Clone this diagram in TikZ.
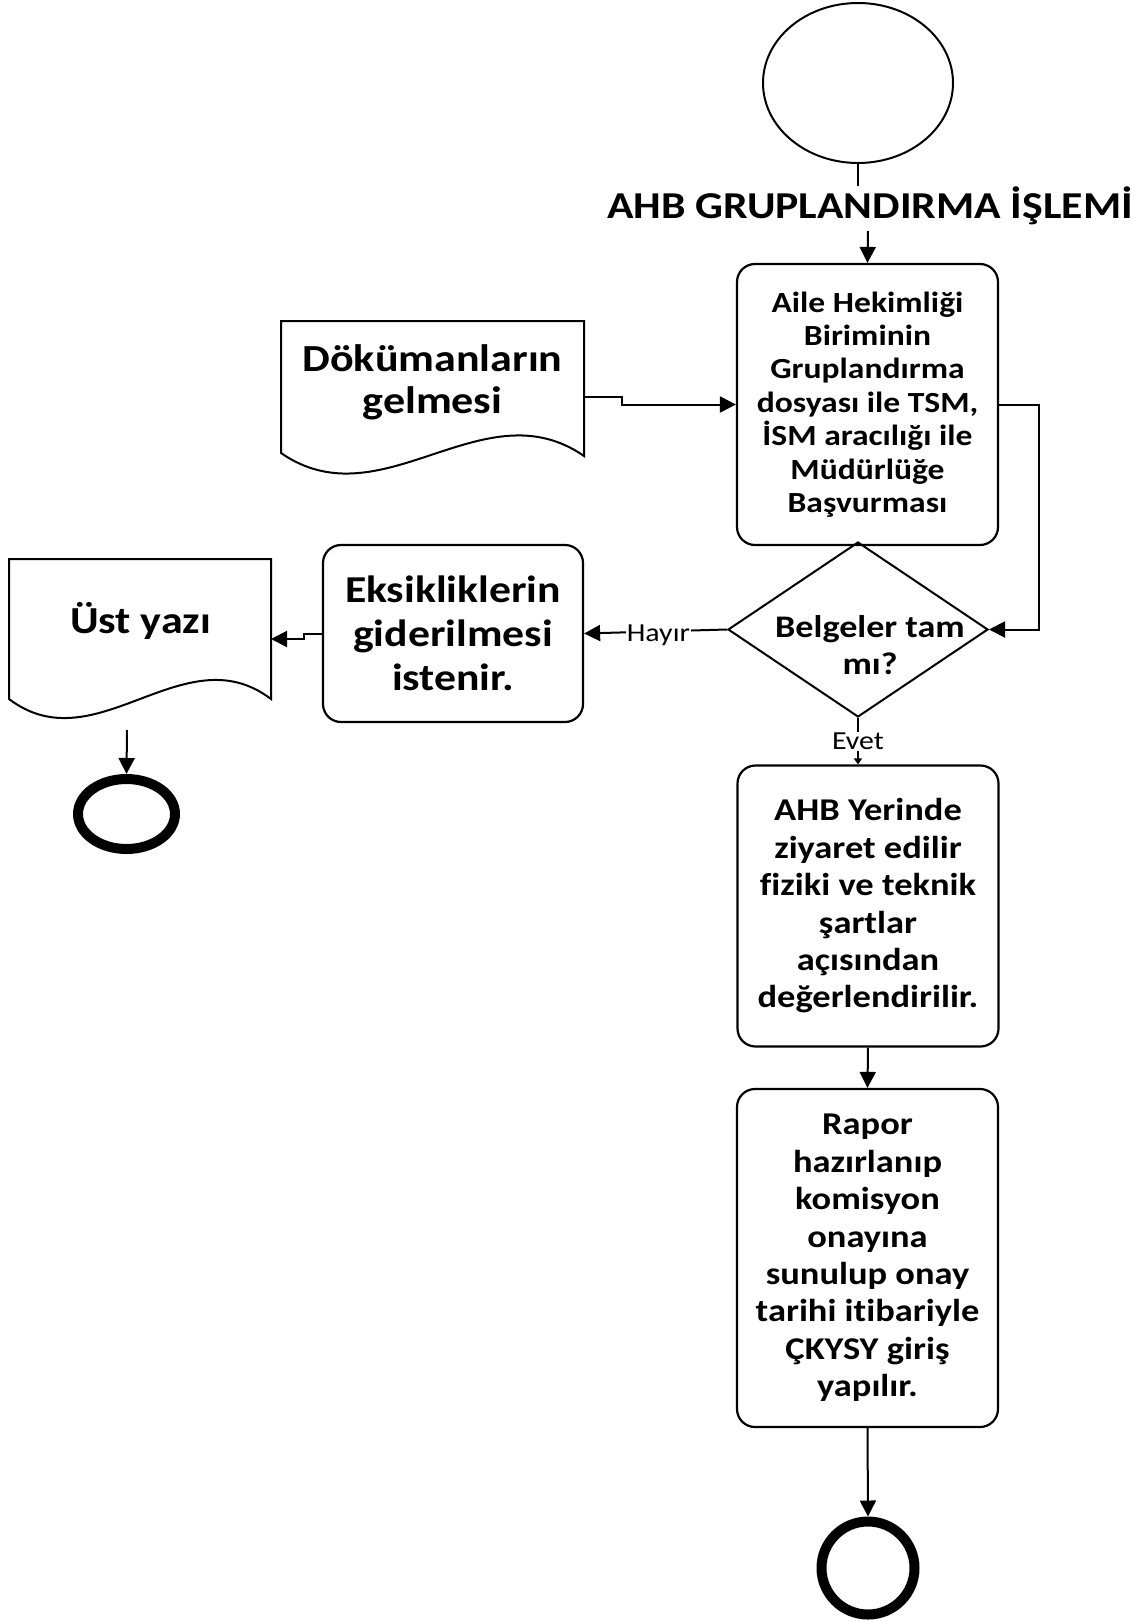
\documentclass[tikz,border=0pt]{standalone}
\usepackage{fontspec}
\setmainfont{Carlito}[FakeStretch=1.15, Ligatures=NoCommon]
\usetikzlibrary{shapes.geometric,arrows.meta,calc}
% bold text at a given size and line spacing
\newcommand\bxf[2]{\bfseries\fontsize{#1}{#2}\selectfont}
\begin{document}
\begin{tikzpicture}[x=1pt,y=-1pt,
  line width=2pt,
  proc/.style={draw, line width=2.2pt, rounded corners=18pt, minimum width=261pt,
               align=center, inner sep=0pt},
  txt/.style={align=center, inner sep=0pt},
  lbl/.style={fill=white, inner sep=1pt, font=\fontsize{26}{30}\selectfont},
  arr/.style={line width=2pt, -{Triangle[length=16pt,width=16pt]}},
  endring/.style={draw, line width=10pt, inner sep=0pt}]
\useasboundingbox (0,0) rectangle (1147,1621);

% start terminal and title
\node[draw, ellipse, line width=2pt, minimum width=190pt, minimum height=160pt, inner sep=0pt] (start) at (858,83) {};
\node[txt, anchor=base, font=\bxf{38}{44}] (title) at (870,219) {AHB GRUPLANDIRMA İŞLEMİ};
\coordinate (t0) at (858,186);
\coordinate (t1) at (868,231);

% process boxes
\node[proc, minimum height=281pt, font=\bxf{29.2}{33.4}] (box1) at (867.5,404.5)
  {Aile Hekimliği\\Biriminin\\Gruplandırma\\dosyası ile TSM,\\İSM aracılığı ile\\Müdürlüğe\\Başvurması};
\node[proc, minimum width=260pt, minimum height=177pt, font=\bxf{38}{44}] (box2) at (453,633.5)
  {Eksikliklerin\\giderilmesi\\istenir.};
\node[proc, minimum height=281pt, font=\bxf{31.7}{37.4}] (box3) at (868,906)
  {AHB Yerinde\\ziyaret edilir\\fiziki ve teknik\\şartlar\\açısından\\değerlendirilir.};
\node[proc, minimum height=338pt, font=\bxf{31.7}{37.4}] (box4) at (867.5,1258)
  {Rapor\\hazırlanıp\\komisyon\\onayına\\sunulup onay\\tarihi itibariyle\\ÇKYSY giriş\\yapılır.};

% decision
\node[draw, diamond, line width=2pt, minimum width=260pt, minimum height=175pt, inner sep=0pt] (dec) at (858,629.5) {};
\node[txt, font=\bxf{31.4}{37}] (dect) at (870,645) {Belgeler tam\\mı?};

% document shapes
\draw[line width=2pt] (281,321) -- (584,321) -- (584,456)
  .. controls (483,386) and (382,523) .. (281,453) -- cycle;
\node[txt, font=\bxf{38.3}{42}] (doc1) at (432.5,382) {Dökümanların\\gelmesi};
\coordinate (d1out) at (584,397);

\draw[line width=2pt] (9,559) -- (271,559) -- (271,699)
  .. controls (184,633) and (96,765) .. (9,699) -- cycle;
\node[txt, font=\bxf{38.2}{44}] (doc2) at (140.5,621) {Üst yazı};
\coordinate (d2in) at (271,639);
\coordinate (d2out) at (127,730);

% end terminals
\node[endring, ellipse, minimum width=97pt, minimum height=70pt] (end1) at (126.5,814) {};
\node[endring, circle, minimum size=93pt] (end2) at (868,1568) {};

% connectors
\draw (start.south) -- (t0);
\draw[arr] (t1) -- (box1.north);
\draw[arr] (d1out) -- ++(38,0) |- (box1.west);
\draw[arr] (box1.east) -- ++(40,0) |- (dec.east);
\draw[arr] (dec.west) -- (box2.east) node[lbl, pos=0.48, yshift=-4pt] {Hayır};
\draw[line width=2pt, -{Triangle[length=6pt,width=8pt]}] (dec.south) -- (dec.south |- box3.north)
  node[lbl, midway] {Evet};
\draw[arr] (box2.west) -- ++(-18,0) |- (d2in);
\draw[arr] (d2out) -- (end1.north);
\draw[arr] (box3.south) -- (box4.north);
\draw[arr] (box4.south) -- (end2.north);
\end{tikzpicture}
\end{document}
